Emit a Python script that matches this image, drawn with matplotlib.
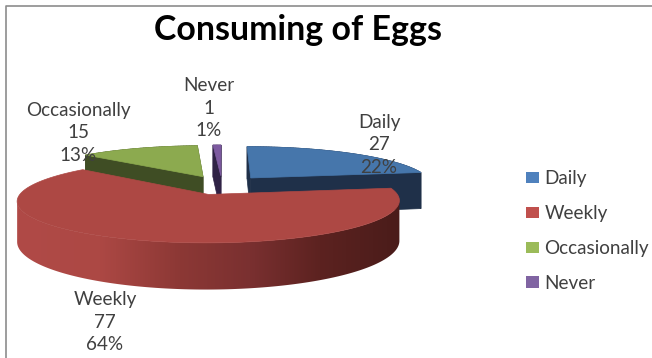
import numpy as np
import matplotlib
matplotlib.use('Agg')
import matplotlib.pyplot as plt
from matplotlib.patches import Polygon, Patch

plt.rcParams['font.family'] = ['Lato', 'DejaVu Sans']

categories = ['Daily', 'Weekly', 'Occasionally', 'Never']
counts = [27, 77, 15, 1]
percents = [22, 64, 13, 1]

# colours
top_colors = ['#4676ab', '#ad4844', '#8caa4f', '#7d5aa0']
side_colors = ['#1f3049', '#5c2220', '#3f4d24', '#2f2245']
legend_colors = ['#4f81bd', '#c0504d', '#9bbb59', '#8064a2']
TEXT = '#404040'

# pie geometry (pixels)
CX, CY = 222, 185
RX, RY = 182, 38
PERSP = 0.15
EXPLODE = 0.25
DEPTH = 38


def project(u, v):
    # unit disc -> screen, back of the pie is further away
    w = 1 / (1 + PERSP * v)
    return CX + RX * u * w, CY - RY * v * w, w


def weekly_shade(x):
    xs = [20, 100, 180, 250, 320, 400]
    rs = [(176, 74, 71), (172, 72, 68), (140, 56, 53), (122, 48, 48), (92, 34, 32), (74, 28, 26)]
    return np.stack([np.interp(x, xs, [c[i] for c in rs]) / 255 for i in range(3)], axis=-1)


fig = plt.figure(figsize=(6.52, 3.58), dpi=100)
ax = fig.add_axes([0, 0, 1, 1])
ax.axis('off')

# picture frame
ax.plot([6, 6, 652], [358, 6, 6], color='#8c8c8c', lw=1.2)

# slices run clockwise from 12 o'clock
total = sum(counts)
ends = 90 - np.cumsum(counts) / total * 360
starts = np.r_[90, ends[:-1]]

slices = []
for i in range(len(counts)):
    mid = np.radians((starts[i] + ends[i]) / 2)
    ou, ov = EXPLODE * np.cos(mid), EXPLODE * np.sin(mid)
    n = max(int(abs(starts[i] - ends[i])), 3)
    t = np.radians(np.linspace(starts[i], ends[i], n))
    us = np.r_[ou, ou + np.cos(t)]
    vs = np.r_[ov, ov + np.sin(t)]
    x, y, w = project(us, vs)
    slices.append((i, x, y, w))

# back slices first, Weekly is the front one
for i, x, y, w in [slices[3], slices[2], slices[0], slices[1]]:
    quads = []
    m = len(x)
    for j in range(m):
        k = (j + 1) % m
        dj, dk = DEPTH * w[j], DEPTH * w[k]
        pts = [(x[j], y[j]), (x[k], y[k]), (x[k], y[k] + dk), (x[j], y[j] + dj)]
        is_arc = j != 0 and k != 0
        quads.append(((y[j] + y[k]) / 2, pts, is_arc))
    quads.sort(key=lambda q: q[0])
    for _, pts, is_arc in quads:
        if i == 1:
            continue
        ax.add_patch(Polygon(pts, closed=True, facecolor=side_colors[i],
                             edgecolor=side_colors[i], lw=0.5))
    if i == 1:
        # gradient along the front of the rim only, between the two side extremes
        a, b = np.argmax(x), np.argmin(x)
        fx, fy, fw = x[a:b + 1], y[a:b + 1], w[a:b + 1]
        rim = np.r_[np.c_[fx, fy], np.c_[fx, fy + DEPTH * fw][::-1]]
        clip = Polygon(rim, closed=True, facecolor='none', edgecolor='none')
        ax.add_patch(clip)
        grad_x = np.linspace(fx.min(), fx.max(), 256)
        im = ax.imshow(weekly_shade(grad_x)[None, :, :], aspect='auto', zorder=2,
                       extent=(fx.min(), fx.max(), (fy + DEPTH * fw).max(), fy.min()))
        im.set_clip_path(clip)
    ax.add_patch(Polygon(np.c_[x, y], closed=True, facecolor=top_colors[i],
                         edgecolor=top_colors[i], lw=0.5, zorder=3 if i == 1 else 1))

ax.set_xlim(0, 652)
ax.set_ylim(358, 0)

ax.text(298, 30, 'Consuming of Eggs', ha='center', va='center', fontsize=24.4,
        fontweight='bold', color='black')

# data labels
label_x = [379, 105, 78, 209]
label_y = [145, 322, 133, 108]
for i, name in enumerate(categories):
    ax.text(label_x[i], label_y[i], f'{name}\n{counts[i]}\n{percents[i]}%', ha='center',
            va='center', fontsize=13.6, color=TEXT, linespacing=1.38, zorder=5)

handles = [Patch(facecolor=c, edgecolor='none', label=n) for c, n in zip(legend_colors, categories)]
ax.legend(handles=handles, loc='center left', bbox_to_anchor=(526, 231),
          bbox_transform=ax.transData, frameon=False, fontsize=13.6, labelcolor=TEXT,
          handlelength=0.68, handleheight=0.55, handletextpad=0.3, labelspacing=0.94,
          borderpad=0, borderaxespad=0)

fig.savefig('out.png', dpi=100)
